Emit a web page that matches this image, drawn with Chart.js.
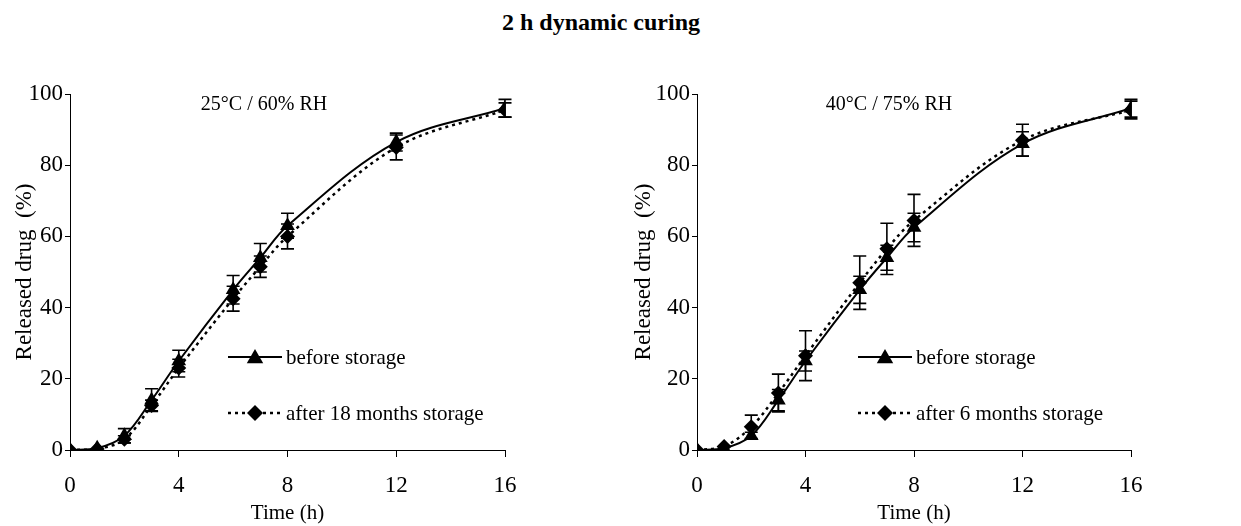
<!DOCTYPE html>
<html>
<head>
<meta charset="utf-8">
<script src="https://cdn.jsdelivr.net/npm/chart.js@4.4.1/dist/chart.umd.min.js"></script>
<style>
body { margin: 0; background: #fff; width: 1241px; height: 526px; position: relative; overflow: hidden; font-family: 'Liberation Serif', 'Times New Roman', serif; }
#title { position: absolute; left: 0; width: 1202px; top: 9px; text-align: center; font-weight: bold; font-size: 24px; color: #000; }
canvas { position: absolute; top: 0; }
</style>
</head>
<body>
<div id="title">2 h dynamic curing</div>
<canvas id="chartLeft" width="620" height="526" style="left:0px"></canvas>
<canvas id="chartRight" width="621" height="526" style="left:620px"></canvas>
<script>
// sampling times (h)
const timeH = [0, 1, 2, 3, 4, 6, 7, 8, 12, 16];

// 25°C / 60% RH
const beforeLeft = [0, 0.5, 4, 14, 25, 45, 54, 63, 86.5, 96];
const beforeLeftErr = [0, 0, 2, 3.2, 3, 4, 4, 3.5, 2.5, 2.5];
const after18 = [0, 0.3, 3, 12.5, 23, 42.5, 51.5, 60, 85, 95.5];
const after18Err = [0, 0, 1, 1.5, 2.5, 3.5, 3, 3.5, 3.5, 2];

// 40°C / 75% RH
const beforeRight = [0, 0.5, 4, 14, 25, 45, 54, 62.5, 86, 96];
const beforeRightErr = [0, 0, 1, 3, 2.8, 3.8, 3.5, 4, 3.4, 2.5];
const after6 = [0, 1, 6.5, 16, 26.5, 47, 56.5, 64.5, 87, 95.5];
const after6Err = [0, 0, 3.3, 5.3, 7, 7.5, 7.2, 7.3, 4.5, 2.5];

const xTicks = [0, 4, 8, 12, 16];
const yTicks = [0, 20, 40, 60, 80, 100];

const FONT = "'Liberation Serif', 'Times New Roman', serif";

function pts(vals) {
    return vals.map((v, i) => ({ x: timeH[i], y: v }));
}

// vertical error bars drawn with the chart's own scales
const errorBars = {
    id: 'errorBars',
    beforeDatasetsDraw(chart) {
        const ctx = chart.ctx;
        const xs = chart.scales.x, ys = chart.scales.y;
        chart.data.datasets.forEach(ds => {
            if (!ds.errors) return;
            ctx.save();
            ctx.strokeStyle = '#000';
            ctx.lineWidth = 1.6;
            ds.data.forEach((p, i) => {
                const e = ds.errors[i];
                if (!e) return;
                const x = xs.getPixelForValue(p.x);
                const yTop = ys.getPixelForValue(p.y + e);
                const yBot = ys.getPixelForValue(p.y - e);
                ctx.beginPath();
                ctx.moveTo(x, yTop); ctx.lineTo(x, yBot);
                ctx.moveTo(x - 6.5, yTop); ctx.lineTo(x + 6.5, yTop);
                ctx.moveTo(x - 6.5, yBot); ctx.lineTo(x + 6.5, yBot);
                ctx.stroke();
            });
            ctx.restore();
        });
    }
};

function drawTriangle(ctx, x, y, r) {
    ctx.beginPath();
    ctx.moveTo(x, y - r);
    ctx.lineTo(x + r * 0.866, y + r * 0.5);
    ctx.lineTo(x - r * 0.866, y + r * 0.5);
    ctx.closePath();
    ctx.fill();
}

function drawDiamond(ctx, x, y, r) {
    ctx.beginPath();
    ctx.moveTo(x, y - r);
    ctx.lineTo(x + r, y);
    ctx.lineTo(x, y + r);
    ctx.lineTo(x - r, y);
    ctx.closePath();
    ctx.fill();
}

// in-plot legend and condition label
const plotNotes = {
    id: 'plotNotes',
    afterDraw(chart, args, opts) {
        const ctx = chart.ctx;
        const a = chart.chartArea;
        ctx.save();
        ctx.fillStyle = '#000';
        ctx.strokeStyle = '#000';
        ctx.font = '20px ' + FONT;
        ctx.textAlign = 'center';
        ctx.textBaseline = 'middle';
        ctx.fillText(opts.panel, a.left + opts.panelX, a.top + 11);

        const x0 = a.left + opts.legX, len = 54;
        const rows = [a.top + 263, a.top + 319];
        ctx.font = '21px ' + FONT;
        ctx.textAlign = 'left';
        chart.data.datasets.forEach((ds, i) => {
            const y = rows[i];
            ctx.lineWidth = ds.borderWidth;
            ctx.setLineDash(ds.borderDash || []);
            ctx.beginPath();
            ctx.moveTo(x0, y); ctx.lineTo(x0 + len, y);
            ctx.stroke();
            ctx.setLineDash([]);
            if (ds.pointStyle === 'triangle') drawTriangle(ctx, x0 + len / 2, y + 1.5, 9.5);
            else drawDiamond(ctx, x0 + len / 2, y, 8);
            ctx.fillText(ds.label, x0 + len + 4, y + 1);
        });
        ctx.restore();
    }
};

function makeChart(id, before, beforeErr, after, afterErr, afterLabel, panel, geo) {
    return new Chart(document.getElementById(id), {
        type: 'line',
        data: {
            datasets: [{
                label: 'before storage',
                data: pts(before),
                errors: beforeErr,
                borderColor: '#000',
                backgroundColor: '#000',
                borderWidth: 2,
                pointStyle: 'triangle',
                pointRadius: 8.5,
                pointBorderWidth: 0,
                tension: 0.35
            }, {
                label: afterLabel,
                data: pts(after),
                errors: afterErr,
                borderColor: '#000',
                backgroundColor: '#000',
                borderWidth: 2.5,
                borderDash: [3, 4],
                pointStyle: 'rectRot',
                pointRadius: 7.5,
                pointBorderWidth: 0,
                tension: 0.35
            }]
        },
        options: {
            responsive: false,
            animation: false,
            events: [],
            layout: { padding: { left: 0, right: geo.padRight, top: 94, bottom: 0 } },
            plugins: {
                legend: { display: false },
                tooltip: { enabled: false },
                plotNotes: { panel: panel, panelX: geo.panelX, legX: geo.legX }
            },
            scales: {
                x: {
                    type: 'linear',
                    min: 0, max: 16,
                    afterBuildTicks: s => { s.ticks = xTicks.map(v => ({ value: v })); },
                    afterFit: s => { s.height = 76; },
                    grid: { drawOnChartArea: false, drawTicks: true, tickLength: 7, color: '#000' },
                    border: { display: true, color: '#000', width: 1 },
                    ticks: { color: '#000', padding: 15, font: { family: FONT, size: 23 }, maxRotation: 0 },
                    title: { display: true, text: 'Time (h)', color: '#000', font: { family: FONT, size: 21 }, padding: { top: 0, bottom: 0 } }
                },
                y: {
                    min: 0, max: 100,
                    afterBuildTicks: s => { s.ticks = yTicks.map(v => ({ value: v })); },
                    afterFit: s => { s.width = geo.yWidth; },
                    grid: { drawOnChartArea: false, drawTicks: true, tickLength: 5, color: '#000' },
                    border: { display: true, color: '#000', width: 1 },
                    ticks: { color: '#000', padding: geo.tickPad, font: { family: FONT, size: 23 } },
                    title: { display: true, text: 'Released drug  (%)', color: '#000', font: { family: FONT, size: 23 }, padding: { top: geo.titlePad, bottom: 0 } }
                }
            }
        },
        plugins: [errorBars, plotNotes]
    });
}

makeChart('chartLeft', beforeLeft, beforeLeftErr, after18, after18Err,
    'after 18 months storage', '25°C / 60% RH',
    { padRight: 115, yWidth: 70, tickPad: 2, titlePad: 11, panelX: 194, legX: 158 });

makeChart('chartRight', beforeRight, beforeRightErr, after6, after6Err,
    'after 6 months storage', '40°C / 75% RH',
    { padRight: 110, yWidth: 77, tickPad: 2, titlePad: 10, panelX: 192, legX: 161 });
</script>
</body>
</html>
